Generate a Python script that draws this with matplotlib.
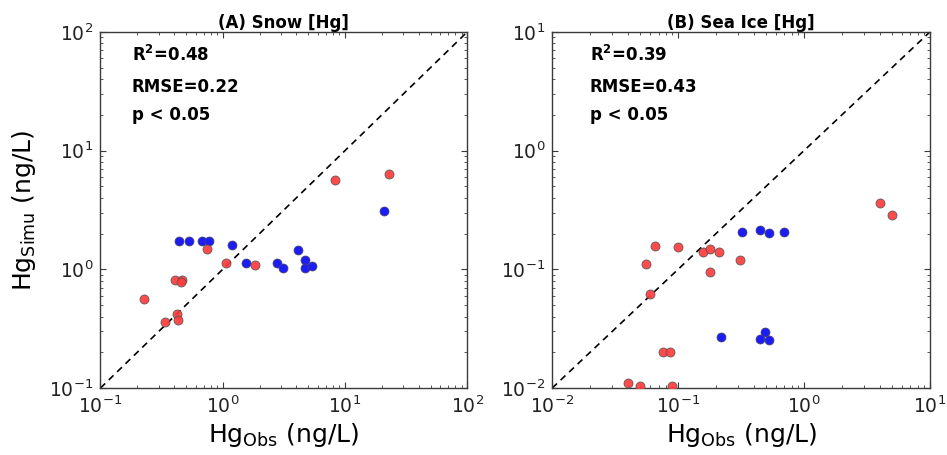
import matplotlib
matplotlib.use("Agg")
import matplotlib.pyplot as plt
from matplotlib.ticker import LogLocator, NullFormatter

plt.rcParams["font.family"] = ["DejaVu Sans"]
plt.rcParams["mathtext.fontset"] = "dejavusans"

# (A) Snow
snow_red_obs = [0.75, 1.06, 1.85, 0.405, 0.462, 0.454, 0.229, 0.421, 0.434, 0.337, 8.25, 23.0]
snow_red_sim = [1.48, 1.14, 1.09, 0.813, 0.813, 0.78, 0.562, 0.42, 0.374, 0.36, 5.69, 6.38]
snow_blue_obs = [0.44, 0.533, 0.673, 0.776, 1.19, 1.55, 2.76, 3.13, 4.13, 4.71, 4.71, 5.37, 20.9]
snow_blue_sim = [1.74, 1.74, 1.74, 1.74, 1.60, 1.14, 1.14, 1.03, 1.46, 1.21, 1.02, 1.07, 3.12]

# (B) Sea ice
ice_red_obs = [4.02, 5.04, 0.0658, 0.0997, 0.0556, 0.158, 0.180, 0.210, 0.310, 0.180,
               0.0597, 0.0759, 0.0867, 0.0397, 0.0498, 0.0893]
ice_red_sim = [0.362, 0.286, 0.158, 0.154, 0.112, 0.139, 0.147, 0.140, 0.121, 0.0945,
               0.0620, 0.0201, 0.0201, 0.0110, 0.0105, 0.0105]
ice_blue_obs = [0.324, 0.445, 0.530, 0.693, 0.219, 0.49, 0.450, 0.530]
ice_blue_sim = [0.205, 0.215, 0.203, 0.205, 0.0268, 0.0298, 0.0258, 0.0252]

panels = [
    ("(A) Snow [Hg]", (0.1, 100), snow_red_obs, snow_red_sim, snow_blue_obs, snow_blue_sim,
     ["R$^{\\mathbf{2}}$=0.48", "RMSE=0.22", "p < 0.05"]),
    ("(B) Sea Ice [Hg]", (0.01, 10), ice_red_obs, ice_red_sim, ice_blue_obs, ice_blue_sim,
     ["R$^{\\mathbf{2}}$=0.39", "RMSE=0.43", "p < 0.05"]),
]

fig = plt.figure(figsize=(9.47, 4.55), dpi=100)
axes = [fig.add_axes([0.106, 0.147, 0.3875, 0.783]),
        fig.add_axes([0.583, 0.147, 0.399, 0.783])]

grey = "#3a3a3a"
for ax, (title, lim, ro, rs, bo, bs, notes) in zip(axes, panels):
    ax.plot(lim, lim, ls=(0, (4, 3)), color="black", lw=1.2, zorder=1)
    ax.scatter(bo, bs, s=42, color="#1c1cf5", edgecolor="#444466", linewidth=0.5, zorder=3)
    ax.scatter(ro, rs, s=42, color="#ff3b3b", edgecolor="#555555", linewidth=0.6, alpha=0.92, zorder=3)
    ax.set_xscale("log")
    ax.set_yscale("log")
    ax.set_xlim(lim)
    ax.set_ylim(lim)
    for a in (ax.xaxis, ax.yaxis):
        a.set_major_locator(LogLocator(base=10, numticks=10))
        a.set_minor_locator(LogLocator(base=10, subs=range(2, 10), numticks=10))
        a.set_minor_formatter(NullFormatter())
    ax.tick_params(which="both", direction="in", top=True, right=True, colors=grey,
                   labelcolor="#222222")
    ax.tick_params(which="major", length=4, labelsize=13.5, pad=5)
    ax.tick_params(which="minor", length=2)
    for sp in ax.spines.values():
        sp.set_color(grey)
        sp.set_linewidth(1.0)
    ax.set_title(title, fontsize=12, fontweight="bold", pad=2)
    for txt, yy in zip(notes, [0.935, 0.845, 0.767]):
        ax.text(0.086 if ax is axes[0] else 0.1, yy, txt, transform=ax.transAxes,
                fontsize=12, fontweight="bold", va="center", ha="left")
    ax.set_xlabel("Hg$_{\\mathregular{Obs}}$ (ng/L)", fontsize=18, labelpad=3)

axes[0].set_ylabel("Hg$_{\\mathregular{Simu}}$ (ng/L)", fontsize=18, labelpad=8)

fig.savefig("out.png", dpi=100)
